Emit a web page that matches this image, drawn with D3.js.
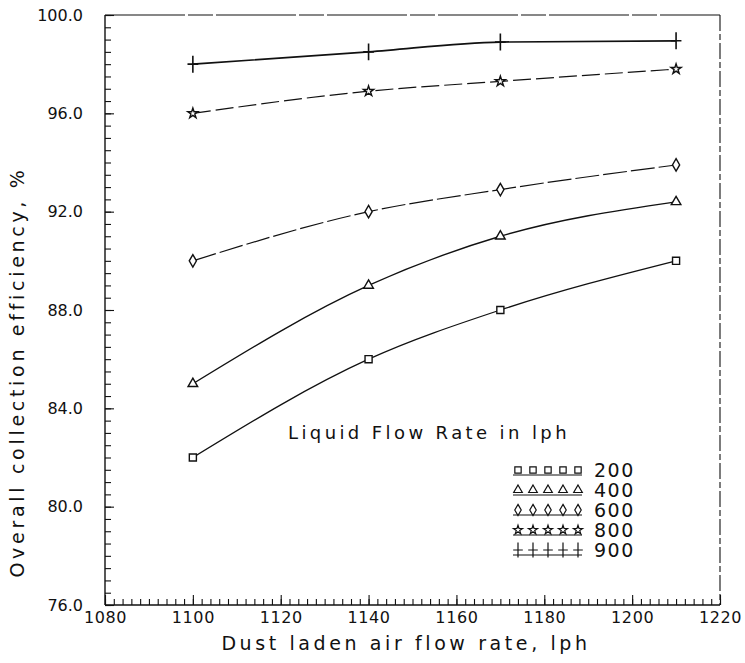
<!DOCTYPE html>
<html><head><meta charset="utf-8">
<script src="https://cdn.jsdelivr.net/npm/d3@7"></script>
<style>
html,body{margin:0;padding:0;background:#fff;}
svg{display:block;}
text{font-family:"DejaVu Sans",sans-serif;fill:#111;}
</style></head>
<body>
<svg id="chart" width="745" height="663"></svg>
<script>
// ---- data ----
const airFlow = [1100, 1140, 1170, 1210];
const liquidRates = ["200", "400", "600", "800", "900"];
const eff200 = [82.0, 86.0, 88.0, 90.0];
const eff400 = [85.0, 89.0, 91.0, 92.4];
const eff600 = [90.0, 92.0, 92.9, 93.9];
const eff800 = [96.0, 96.9, 97.3, 97.8];
const eff900 = [98.0, 98.5, 98.9, 98.95];
const xTickLabels = [1080, 1100, 1120, 1140, 1160, 1180, 1200, 1220];
const yTickLabels = [76, 80, 84, 88, 92, 96, 100];
const xTitle = "Dust laden air flow rate, lph";
const yTitle = "Overall collection efficiency, %";
const legendTitle = "Liquid Flow Rate in lph";

const seriesValues = [eff200, eff400, eff600, eff800, eff900];

// ---- layout ----
const svg = d3.select("#chart");
const L = 105, R = 720, T = 15, B = 605;
const x = d3.scaleLinear().domain([1080, 1220]).range([L, R]);
const y = d3.scaleLinear().domain([76, 100]).range([B, T]);

// symbol types
const plusType = {draw(ctx, size){ const w = Math.sqrt(size)*0.6, h = Math.sqrt(size)*0.95;
  ctx.moveTo(-w,0); ctx.lineTo(w,0); ctx.moveTo(0,-h); ctx.lineTo(0,h);} };
const symbolTypes = [d3.symbolSquare, d3.symbolTriangle, d3.symbolDiamond, d3.symbolStar, plusType];
const symbolSizes = [50, 40, 45, 32, 80];
const dashes = [null, null, "24,4", "18,5", null];
const widths = [1.3, 1.4, 1.2, 1.2, 1.7];

// frame
const frame = svg.append("g").attr("stroke", "#111").attr("fill", "none");
frame.append("line").attr("x1", L).attr("x2", L).attr("y1", T).attr("y2", B).attr("stroke-width", 1.4);
frame.append("line").attr("x1", L).attr("x2", R).attr("y1", B).attr("y2", B).attr("stroke-width", 1.4);
frame.append("line").attr("x1", L).attr("x2", R).attr("y1", T).attr("y2", T).attr("stroke-width", 1.1).attr("stroke-dasharray", "80,3,25,3");
frame.append("line").attr("x1", R).attr("x2", R).attr("y1", T).attr("y2", B).attr("stroke-width", 1.1).attr("stroke-dasharray", "16,3,6,3");

// y axis: minor + major ticks inside
const yMinor = d3.range(76, 100.001, 0.5);
svg.append("g").attr("transform", `translate(${L},0)`)
  .call(d3.axisLeft(y).tickValues(yMinor).tickSize(-6).tickFormat(""))
  .call(g => g.select(".domain").remove())
  .call(g => g.selectAll("line").attr("stroke", "#111").attr("stroke-width", 1.1));
svg.append("g").attr("transform", `translate(${L},0)`)
  .call(d3.axisLeft(y).tickValues(yTickLabels).tickSize(-9).tickPadding(22).tickFormat(d3.format(".1f")))
  .call(g => g.select(".domain").remove())
  .call(g => g.selectAll("line").attr("stroke", "#111").attr("stroke-width", 1.1))
  .call(g => g.selectAll("text").attr("font-size", 16).attr("fill", "#111").attr("font-family", '"DejaVu Sans",sans-serif'));

// x axis
const xMinor = d3.range(1080, 1220.001, 2);
svg.append("g").attr("transform", `translate(0,${B})`)
  .call(d3.axisBottom(x).tickValues(xMinor).tickSize(-6).tickFormat(""))
  .call(g => g.select(".domain").remove())
  .call(g => g.selectAll("line").attr("stroke", "#111").attr("stroke-width", 1.1));
svg.append("g").attr("transform", `translate(0,${B})`)
  .call(d3.axisBottom(x).tickValues(xTickLabels).tickSize(-10).tickPadding(7).tickFormat(d3.format("d")))
  .call(g => g.select(".domain").remove())
  .call(g => g.selectAll("line").attr("stroke", "#111").attr("stroke-width", 1.1))
  .call(g => g.selectAll("text").attr("font-size", 16).attr("fill", "#111").attr("letter-spacing", 0.6).attr("font-family", '"DejaVu Sans",sans-serif'));

// titles
svg.append("text").attr("x", 406).attr("y", 650).attr("text-anchor", "middle")
  .attr("font-size", 19).attr("letter-spacing", 3.6).text(xTitle);
svg.append("text").attr("transform", "translate(24,372) rotate(-90)").attr("text-anchor", "middle")
  .attr("font-size", 19).attr("letter-spacing", 3.7).text(yTitle);

// series
const line = d3.line().x((d, i) => x(airFlow[i])).y(d => y(d)).curve(d3.curveMonotoneX);
seriesValues.forEach((vals, s) => {
  svg.append("path").datum(vals).attr("d", line).attr("fill", "none")
    .attr("stroke", "#111").attr("stroke-width", widths[s])
    .attr("stroke-dasharray", dashes[s]);
  const sym = d3.symbol().type(symbolTypes[s]).size(symbolSizes[s]);
  svg.append("g").selectAll("path").data(vals).join("path")
    .attr("transform", (d, i) => `translate(${x(airFlow[i])},${y(d)})`)
    .attr("d", sym).attr("fill", s === 4 ? "none" : "#fff")
    .attr("stroke", "#111").attr("stroke-width", s === 4 ? 1.6 : 1.4);
});

// legend
svg.append("text").attr("x", 288).attr("y", 439).attr("font-size", 18)
  .attr("letter-spacing", 3.4).text(legendTitle);
const lg = svg.append("g");
liquidRates.forEach((lab, s) => {
  const cy = 470 + s * 20;
  const sym = d3.symbol().type(symbolTypes[s]).size(symbolSizes[s] * 0.8);
  lg.append("line").attr("x1", 513).attr("x2", 582).attr("y1", cy + 5).attr("y2", cy + 5)
    .attr("stroke", "#111").attr("stroke-width", 1.1);
  lg.append("g").selectAll("path").data(d3.range(5)).join("path")
    .attr("transform", k => `translate(${518 + k * 15},${cy})`)
    .attr("d", sym).attr("fill", s === 4 ? "none" : "#fff")
    .attr("stroke", "#111").attr("stroke-width", 1.2);
  lg.append("text").attr("x", 594).attr("y", cy + 7).attr("font-size", 19)
    .attr("letter-spacing", 1.5).text(lab);
});
</script>
</body></html>
